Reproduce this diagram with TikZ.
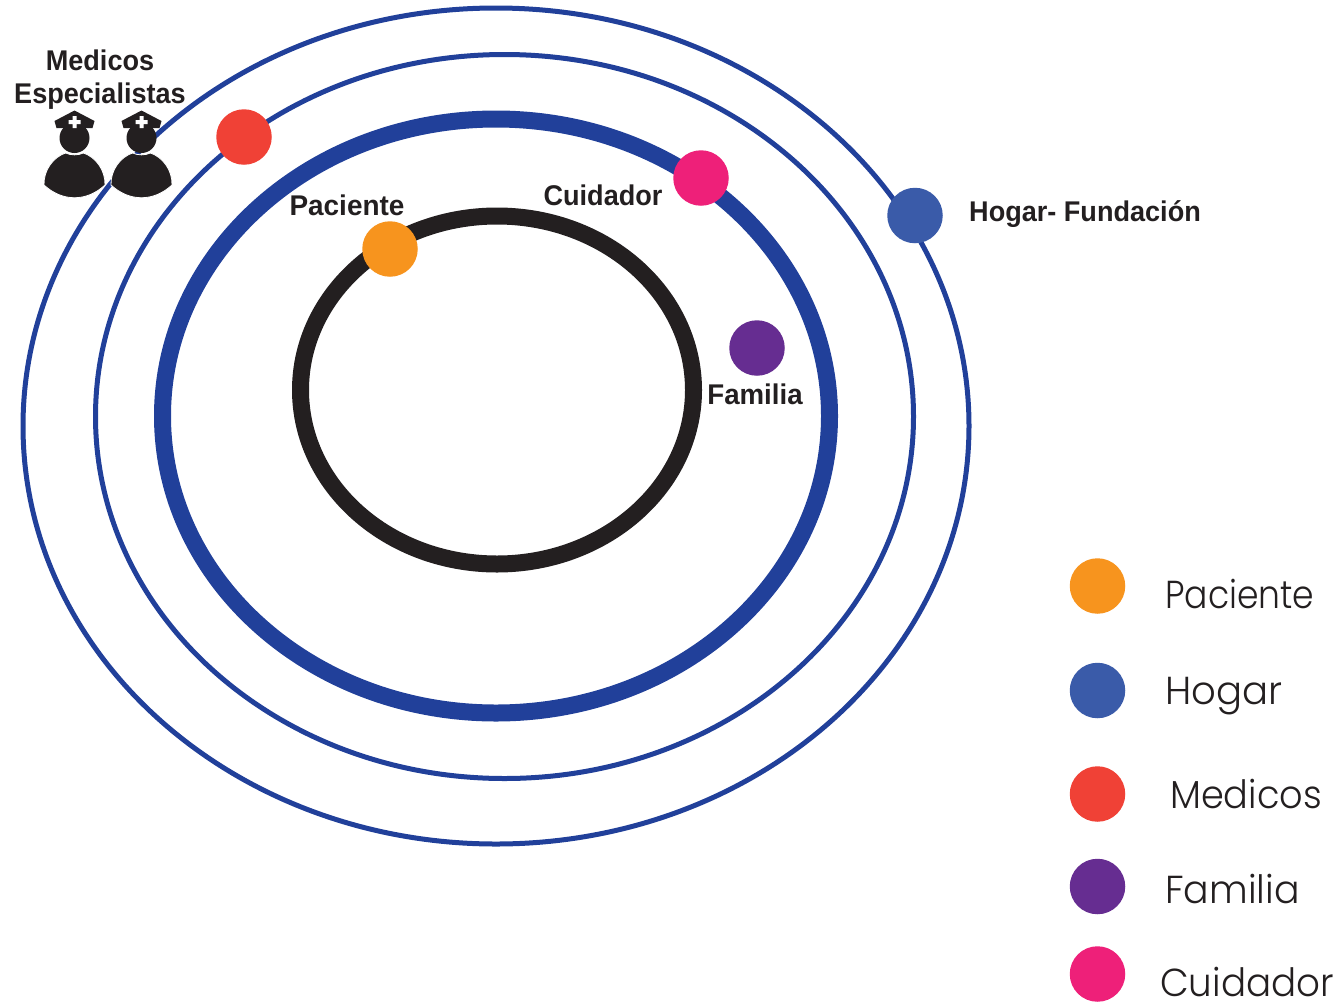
\documentclass[tikz,border=0pt]{standalone}
\usepackage{fontspec}
\setmainfont{Liberation Sans}
\newfontfamily\lblf[FakeStretch=0.95]{Liberation Sans}
\newfontfamily\legf{Poppins Light}
\newcommand{\strch}[1]{\addfontfeature{FakeStretch=#1}}
\definecolor{ringblue}{HTML}{21409A}
\definecolor{ink}{HTML}{231F20}
\definecolor{cOrange}{HTML}{F7941E}
\definecolor{cBlue}{HTML}{3A5BA9}
\definecolor{cRed}{HTML}{F04136}
\definecolor{cPurple}{HTML}{662D91}
\definecolor{cPink}{HTML}{EE2079}
\tikzset{
  dot/.style={circle,inner sep=0pt,minimum size=55.5pt,fill=#1},
  lbl/.style={text=ink,font=\lblf\bfseries\fontsize{28.5}{33}\selectfont,align=center,inner sep=0pt},
  leg/.style={text=ink,font=\legf\fontsize{39}{44}\selectfont,anchor=base west,inner sep=0pt},
  nurse/.pic={
    \fill[ink] (-20,-7) -- (0,-17.5) -- (20,-7) -- (18,0) -- (-18,0) -- cycle;
    \fill[ink] (0,10) circle (15);
    \fill[white] (-2,-12) rectangle (2,0) (-6,-8) rectangle (6,-4);
    \fill[ink,draw=white,line width=0.8pt] (-30.5,57) .. controls (-31,42) and (-21,29) .. (-9,25) .. controls (-3,27.5) and (3,27.5) .. (9,25) .. controls (21,29) and (31,42) .. (30.5,57) .. controls (12,74) and (-12,74) .. (-30.5,57) -- cycle;
  }
}
\begin{document}
\begin{tikzpicture}[x=1pt,y=-1pt]
\useasboundingbox (0,0) rectangle (1343,1002);
\draw[ringblue,line width=5pt] (496,426) ellipse [x radius=473,y radius=418];
\draw[ringblue,line width=5pt] (504.5,416.5) ellipse [x radius=409,y radius=362];
\draw[ringblue,line width=17pt] (496,416) ellipse [x radius=333.5,y radius=297];
\draw[ink,line width=17pt] (497,390) ellipse [x radius=196.5,y radius=174];

\pic at (74.5,128) {nurse};
\pic at (141.5,128) {nurse};

\node[dot=cRed] (medicos) at (244,137) {};
\node[dot=cPink] (cuidador) at (701,178) {};
\node[dot=cBlue] (hogar) at (915,215.5) {};
\node[dot=cOrange] (paciente) at (390,249) {};
\node[dot=cPurple] (familia) at (757,348) {};

\node[lbl] (tmed) at (100,80) {Medicos\\Especialistas};
\node[lbl] (tpac) at (347,205.5) {\strch{0.98}Paciente};
\node[lbl] (tcui) at (603,195.5) {Cuidador};
\node[lbl] (tfam) at (755,394) {\strch{0.97}Familia};
\node[lbl,anchor=west] (thog) at (969,214.5) {Hogar- Fundación};

\node[dot=cOrange] (l1) at (1097.5,586) {};
\node[dot=cBlue] (l2) at (1097.5,690.5) {};
\node[dot=cRed] (l3) at (1097.5,794) {};
\node[dot=cPurple] (l4) at (1097.5,886.5) {};
\node[dot=cPink] (l5) at (1097.5,974) {};

\node[leg] (t1) at (1165,608) {\strch{0.886}Paciente};
\node[leg] (t2) at (1165,704) {\strch{0.99}Hogar};
\node[leg] (t3) at (1170,808) {\strch{0.94}Medicos};
\node[leg] (t4) at (1165,903) {\strch{0.97}Familia};
\node[leg] (t5) at (1160,996) {\strch{0.955}Cuidador};
\end{tikzpicture}
\end{document}
